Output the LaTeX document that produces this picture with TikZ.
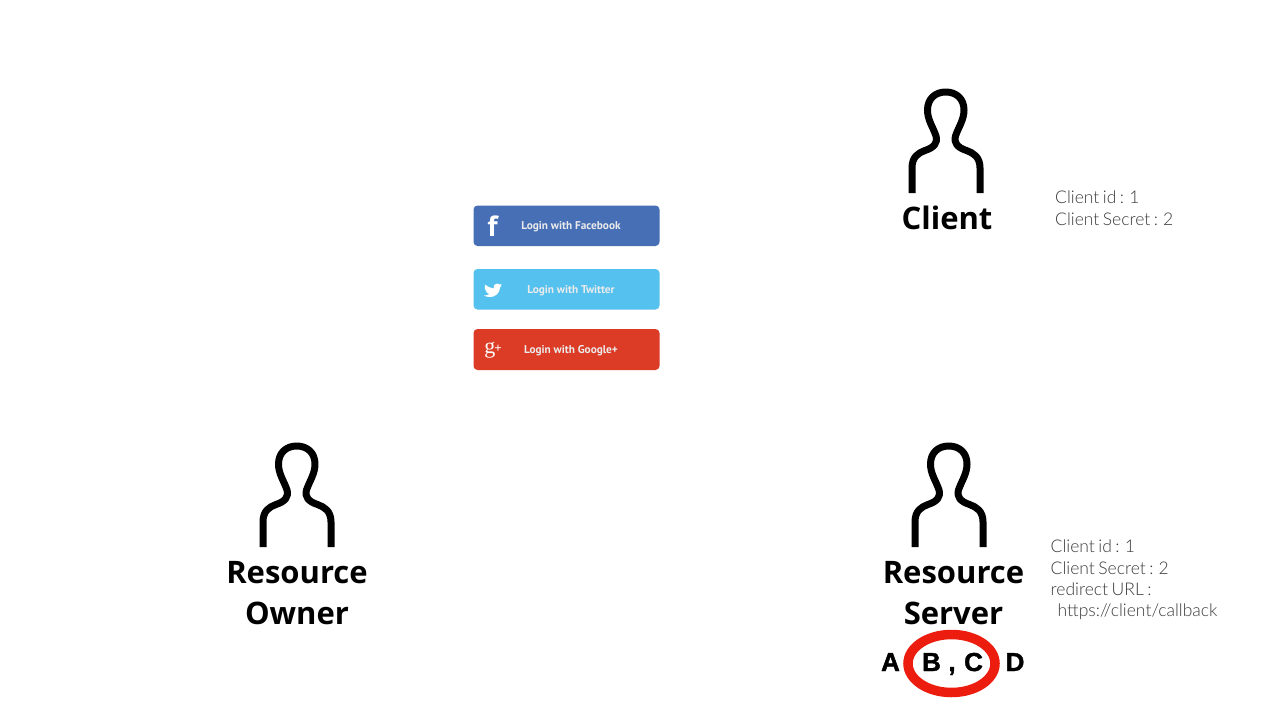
\documentclass[tikz,border=0pt]{standalone}
\usepackage{fontspec}
\setmainfont{Open Sans}
\newfontfamily\lightf{Lato Light}
\newfontfamily\btnf{PT Sans}
\newfontfamily\gf{Liberation Serif}
\newfontfamily\abcf[FakeBold=1.5]{Liberation Sans}
\newcommand\infofont{\lightf\fontsize{17.5}{21.3}\selectfont\spaceskip=0.2em\relax}
\definecolor{fb}{HTML}{466FB5}
\definecolor{tw}{HTML}{55C1EE}
\definecolor{gp}{HTML}{DC3C26}
\definecolor{ring}{HTML}{EC1C0E}
\definecolor{lighttext}{HTML}{3A3A3A}
\tikzset{
  x=1pt,y=-1pt,
  personline/.style={line width=7pt,black,line join=round},
  title/.style={font=\fontsize{31}{41}\selectfont\bfseries,align=center,text=black,inner sep=0pt},
  info/.style={font=\infofont,align=left,text=lighttext,inner sep=0pt,anchor=north west},
  btn/.style={fill=#1,draw=none,rounded corners=4pt},
  btntext/.style={font=\btnf\bfseries\fontsize{11.3}{12}\selectfont,text=white!92!black,inner sep=0pt},
  btnicon/.style={text=white,inner sep=0pt},
  letter/.style={font=\abcf\bfseries\fontsize{26}{30}\selectfont,text=black,inner sep=0pt,anchor=base},
  person/.pic={
    \draw[personline] (912,193) -- (912,168)
      .. controls (912,157) and (918,153) .. (925,150.5)
      .. controls (934,147.5) and (938,143) .. (936,136)
      .. controls (933,127) and (927.5,120) .. (927.5,110)
      .. controls (927.5,99) and (935,92) .. (945.75,92)
      .. controls (956.5,92) and (964,99) .. (964,110)
      .. controls (964,120) and (958.5,127) .. (955.5,136)
      .. controls (953.5,143) and (957.5,147.5) .. (966.5,150.5)
      .. controls (973.5,153) and (980,157) .. (980,168)
      -- (980,193);
  }
}
\begin{document}
\begin{tikzpicture}
\useasboundingbox (0,0) rectangle (1280,717);
\fill[white] (0,0) rectangle (1280,717);

\pic (clientp) at (0,0) {person};
\pic (ownerp) at (-649,354) {person};
\pic (serverp) at (3,354) {person};

\node[title] (client) at (947,218) {Client};
\node[title] (owner) at (297,593.5) {Resource\\Owner};
\node[title] (server) at (953.5,593.5) {Resource\\Server};

\node[info] (clientinfo) at (1055,191) {Client id : 1\\Client Secret : 2};
\node[info] (serverinfo) at (1050.5,540) {Client id : 1\\Client Secret : 2\\redirect URL :\\\hspace*{7pt}https://client/callback};

\fill[btn=fb] (473.5,205.5) rectangle (659.5,246);
\fill[btn=tw] (473.5,269) rectangle (659.5,309.5);
\fill[btn=gp] (473.5,329) rectangle (659.5,370);

\node[btntext] (fbtext) at (571,227) {Login with Facebook};
\node[btntext] (twtext) at (571,291) {Login with Twitter};
\node[btntext] (gptext) at (571,351) {Login with Google+};
\node[btnicon,font=\bfseries\fontsize{27}{27}\selectfont] (fbicon) at (492.5,226) {f};
\fill[white] (485,284.5) .. controls (488,287) and (491,288) .. (493.5,288.5)
  .. controls (493,285.5) and (495,283.5) .. (497,283.5)
  .. controls (498.5,283.5) and (499,284) .. (499.5,284.5)
  -- (501.5,284) -- (500.5,286) -- (501.5,285.7) -- (500,287.5)
  .. controls (500,293) and (495,297.5) .. (489.5,297)
  .. controls (487.5,297) and (485.5,296.5) .. (484,295.5)
  .. controls (486.5,295.5) and (488,295) .. (489.5,294)
  .. controls (487.5,293.5) and (486.5,292.5) .. (486,291)
  .. controls (485,290) and (484,287) .. (485,284.5) -- cycle;
\node[btnicon,font=\gf\fontsize{22}{22}\selectfont] (gpicon) at (493,350) {g\kern-1pt\raisebox{1pt}{\fontsize{13}{13}\selectfont\bfseries +}};

\draw[ring,line width=9.5pt] (951.5,663.5) ellipse (43.5 and 29);
\node[letter] (la) at (890.5,671) {A};
\node[letter] (lb) at (931.5,671) {B};
\node[letter] (lcomma) at (952,671) {,};
\node[letter] (lc) at (973.5,671) {C};
\node[letter] (ld) at (1015,671) {D};
\end{tikzpicture}
\end{document}
